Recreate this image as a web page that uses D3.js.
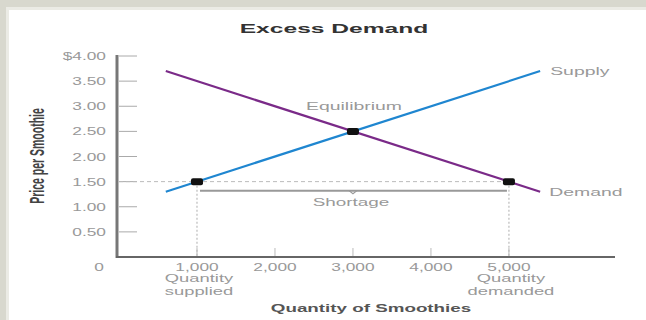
<!DOCTYPE html>
<html><head><meta charset="utf-8">
<script src="https://cdn.jsdelivr.net/npm/d3@7"></script>
<style>body{margin:0;background:#fff}svg{display:block}text{font-family:"Liberation Sans",Arial,sans-serif}</style>
</head><body>
<script>
const priceTicks = [0, 0.5, 1, 1.5, 2, 2.5, 3, 3.5, 4];
const priceLabels = ["0", "0.50", "1.00", "1.50", "2.00", "2.50", "3.00", "3.50", "$4.00"];
const qtyTicks = [1000, 2000, 3000, 4000, 5000];
const qtyLabels = ["1,000", "2,000", "3,000", "4,000", "5,000"];
const supplyQ = [600, 5400];
const supplyP = [1.3, 3.7];
const demandQ = [600, 5400];
const demandP = [3.7, 1.3];
const points = [{q:1000,p:1.5},{q:3000,p:2.5},{q:5000,p:1.5}];
const shortageQ = [1000, 5000];
const shortageP = 1.5;

const W=646,H=320;
const svg=d3.select("body").append("svg").attr("width",W).attr("height",H);
// frame
svg.append("rect").attr("width",W).attr("height",H).attr("fill","#d8d8ce");
svg.append("rect").attr("x",6).attr("y",7).attr("width",W).attr("height",H).attr("fill","#ebebe5");
svg.append("rect").attr("x",9).attr("y",10).attr("width",W).attr("height",H).attr("fill","#fff");

const x=d3.scaleLinear().domain([0,6360]).range([119,615]);
const y=d3.scaleLinear().domain([0,4]).range([257,56]);

function txt(px,py,str,o){
  o=o||{};
  const t=svg.append("text")
    .attr("transform",`translate(${px},${py}) scale(${o.sx||1.8},1)${o.rot?` rotate(${o.rot})`:""}`)
    .attr("text-anchor",o.anchor||"start")
    .attr("font-size",o.size||10.5)
    .attr("fill",o.fill||"#999")
    .text(str);
  if(o.bold) t.attr("font-weight","bold");
  if(o.family) t.attr("font-family",o.family);
  return t;
}

// title
txt(334,33,"Excess Demand",{anchor:"middle",size:12,bold:true,fill:"#333",sx:2.05});
// y label
txt(44,156,"Price per Smoothie",{anchor:"middle",size:10.5,bold:true,fill:"#444",sx:2.0,rot:-90,family:"Liberation Sans Narrow"});

// y ticks
priceTicks.forEach((v,i)=>{
  if(v>0) svg.append("line").attr("x1",119).attr("x2",137).attr("y1",y(v)).attr("y2",y(v)).attr("stroke","#aaa").attr("stroke-width",1);
  txt(v===0?104:106, v===0?y(v)+14:y(v)+4, priceLabels[i],{anchor:"end",sx:1.65});
});
// x ticks
qtyTicks.forEach((v,i)=>{
  svg.append("line").attr("x1",x(v)).attr("x2",x(v)).attr("y1",248).attr("y2",256).attr("stroke","#bbb").attr("stroke-width",1);
  txt(x(v),271,qtyLabels[i],{anchor:"middle",sx:1.65});
});
[["Quantity","supplied",1000],["Quantity","demanded",5000]].forEach(d=>{
  txt(x(d[2])+2,282,d[0],{anchor:"middle",sx:1.75});
  txt(x(d[2])+2,295,d[1],{anchor:"middle",sx:1.75});
});
txt(371,312,"Quantity of Smoothies",{anchor:"middle",size:10,bold:true,fill:"#555",sx:1.88});

// axes
svg.append("line").attr("x1",117).attr("x2",117).attr("y1",y(4)-1).attr("y2",258).attr("stroke","#777").attr("stroke-width",3);
svg.append("line").attr("x1",116).attr("x2",615).attr("y1",257).attr("y2",257).attr("stroke","#666").attr("stroke-width",2);

// dashed price line and dotted verticals
svg.append("line").attr("x1",119).attr("x2",x(shortageQ[1])).attr("y1",y(shortageP)).attr("y2",y(shortageP))
  .attr("stroke","#bbb").attr("stroke-dasharray","4,3").attr("stroke-width",1);
shortageQ.forEach(q=>{
  svg.append("line").attr("x1",x(q)).attr("x2",x(q)).attr("y1",y(shortageP)).attr("y2",256)
    .attr("stroke","#bbb").attr("stroke-dasharray","2,2").attr("stroke-width",1.2);
});
// shortage bracket
const by=y(shortageP)+9;
svg.append("path").attr("d",`M${x(shortageQ[0])+3},${by}H${x(shortageQ[1])-2}`).attr("stroke","#999").attr("stroke-width",2).attr("fill","none");
const mid=(x(shortageQ[0])+x(shortageQ[1]))/2;
svg.append("path").attr("d",`M${mid-4},${by}L${mid},${by+3}L${mid+4},${by}`).attr("stroke","#999").attr("stroke-width",1.2).attr("fill","none");
txt(mid-2,by+15,"Shortage",{anchor:"middle",sx:1.8});

// curves
const line=d3.line().x(d=>x(d[0])).y(d=>y(d[1]));
svg.append("path").attr("d",line(supplyQ.map((q,i)=>[q,supplyP[i]]))).attr("stroke","#1f86d0").attr("stroke-width",2.2).attr("fill","none");
svg.append("path").attr("d",line(demandQ.map((q,i)=>[q,demandP[i]]))).attr("stroke","#7a2a88").attr("stroke-width",2.2).attr("fill","none");

// points
points.forEach(p=>{
  svg.append("rect").attr("x",x(p.q)-6).attr("y",y(p.p)-3.5).attr("width",12).attr("height",7).attr("rx",2).attr("fill","#111");
});

// labels
txt(x(supplyQ[1])+10,y(supplyP[1])+4,"Supply",{sx:1.85});
txt(x(demandQ[1])+9,y(demandP[1])+4,"Demand",{sx:1.85});
txt(354,y(2.5)-21,"Equilibrium",{anchor:"middle",sx:1.85});
</script>
</body></html>
